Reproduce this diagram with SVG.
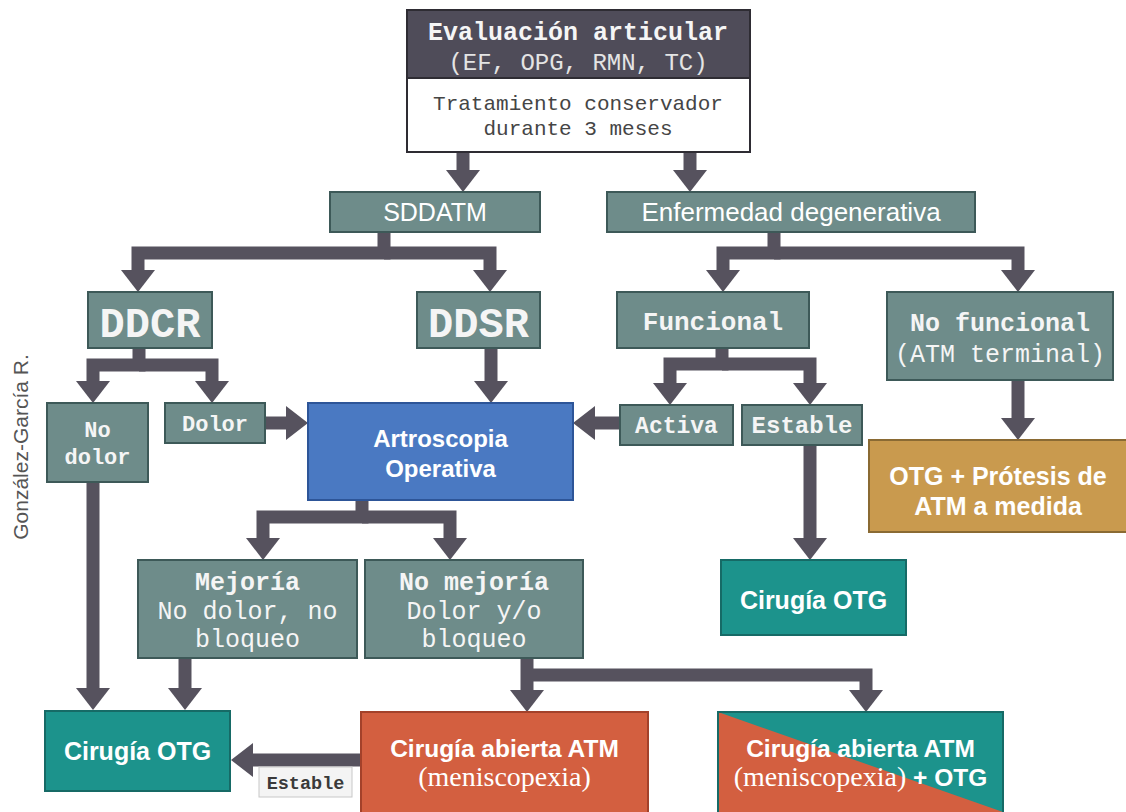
<svg xmlns="http://www.w3.org/2000/svg" width="1126" height="812" viewBox="0 0 1126 812">
<style>
.bg{fill:#ffffff}
.g{fill:#6e8c8a;stroke:#3d5958;stroke-width:2}
.dk{fill:#4f4c59;stroke:#2e2c33;stroke-width:2}
.wt{fill:#ffffff;stroke:#2e2c33;stroke-width:2}
.bl{fill:#4a79c2;stroke:#2d5598;stroke-width:2}
.tl{fill:#1c938c;stroke:#166a66;stroke-width:2}
.or{fill:#d35f40;stroke:#a3412a;stroke-width:2}
.tn{fill:#c99a4e;stroke:#8a6a33;stroke-width:2}
.lb{fill:#f4f4f4;stroke:#c8c8c8;stroke-width:1}
.m{font-family:"Liberation Mono","Courier New",monospace;fill:#f5f5f5;text-anchor:middle}
.mb{font-family:"Liberation Mono","Courier New",monospace;fill:#f5f5f5;text-anchor:middle;font-weight:bold}
.s{font-family:"Liberation Sans",Arial,sans-serif;fill:#ffffff;text-anchor:middle}
.sb{font-family:"Liberation Sans",Arial,sans-serif;fill:#ffffff;text-anchor:middle;font-weight:bold}
.sf{font-family:"Liberation Serif","Times New Roman",serif;font-weight:normal}
.c{fill:none;stroke:#56525e;stroke-width:13;stroke-linejoin:miter;stroke-linecap:butt;marker-end:url(#ah)}
.cn{fill:none;stroke:#56525e;stroke-width:13;stroke-linejoin:miter;stroke-linecap:butt}
</style>
<defs>
<marker id="ah" markerUnits="userSpaceOnUse" markerWidth="24" markerHeight="36" refX="0" refY="0" orient="auto" overflow="visible">
<path d="M-1,-17 L21,0 L-1,17 Z" fill="#56525e"/>
</marker>
</defs>
<rect class="bg" x="0" y="0" width="1126" height="812"/>

<g id="connectors">
<path class="c" d="M463,152 V171"/>
<path class="c" d="M690,152 V171"/>
<path class="c" d="M384,232 V253 H138 V271"/>
<path class="c" d="M384,253 H490 V271"/>
<path class="c" d="M774,232 V253 H723 V271"/>
<path class="c" d="M774,253 H1018 V271"/>
<path class="c" d="M139,348 V365 H93 V382"/>
<path class="c" d="M139,365 H212 V382"/>
<path class="c" d="M491,348 V382"/>
<path class="c" d="M265,423 H287"/>
<path class="c" d="M620,423 H594"/>
<path class="c" d="M722,348 V364 H670 V384"/>
<path class="c" d="M722,364 H810 V384"/>
<path class="c" d="M1018,380 V419"/>
<path class="c" d="M810,445 V539"/>
<path class="c" d="M362,500 V517 H263 V539"/>
<path class="c" d="M362,517 H450 V539"/>
<path class="c" d="M93,482 V689"/>
<path class="c" d="M185,658 V689"/>
<path class="c" d="M527,658 V691"/>
<path class="c" d="M527,675 H866 V691"/>
<path class="c" d="M361,760 H252"/>
</g>

<g id="n-top">
<rect class="dk" x="407" y="10" width="343" height="68"/>
<rect class="wt" x="407" y="78" width="343" height="74"/>
<text class="mb" x="578" y="40" font-size="25">Evaluación articular</text>
<text class="m" x="578" y="70" font-size="24" style="fill:#e4e4e4">(EF, OPG, RMN, TC)</text>
<text class="m" x="578" y="110" font-size="21" style="fill:#454545">Tratamiento conservador</text>
<text class="m" x="578" y="135" font-size="21" style="fill:#454545">durante 3 meses</text>
</g>

<g id="n-sddatm">
<rect class="g" x="330" y="192" width="210" height="40"/>
<text class="s" x="435" y="221" font-size="25">SDDATM</text>
</g>

<g id="n-enf">
<rect class="g" x="607" y="192" width="368" height="40"/>
<text class="s" x="791" y="221" font-size="26">Enfermedad degenerativa</text>
</g>

<g id="n-ddcr">
<rect class="g" x="88" y="292" width="124" height="56"/>
<text class="mb" x="150" y="337" font-size="42">DDCR</text>
</g>

<g id="n-ddsr">
<rect class="g" x="417" y="292" width="123" height="56"/>
<text class="mb" x="478.5" y="337" font-size="42">DDSR</text>
</g>

<g id="n-funcional">
<rect class="g" x="617" y="292" width="192" height="56"/>
<text class="mb" x="713" y="330" font-size="26">Funcional</text>
</g>

<g id="n-nofuncional">
<rect class="g" x="887" y="292" width="226" height="88"/>
<text class="mb" x="1000" y="331" font-size="25">No funcional</text>
<text class="m" x="1000" y="362" font-size="25">(ATM terminal)</text>
</g>

<g id="n-nodolor">
<rect class="g" x="47" y="403" width="101" height="79"/>
<text class="mb" x="97.5" y="437" font-size="22">No</text>
<text class="mb" x="97.5" y="464" font-size="22">dolor</text>
</g>

<g id="n-dolor">
<rect class="g" x="165" y="403" width="100" height="40"/>
<text class="mb" x="215" y="431" font-size="22">Dolor</text>
</g>

<g id="n-artro">
<rect class="bl" x="308" y="403" width="265" height="97"/>
<text class="sb" x="440.5" y="447" font-size="24">Artroscopia</text>
<text class="sb" x="440.5" y="477" font-size="24">Operativa</text>
</g>

<g id="n-activa">
<rect class="g" x="620" y="405" width="113" height="40"/>
<text class="mb" x="676.5" y="433" font-size="23">Activa</text>
</g>

<g id="n-estable">
<rect class="g" x="742" y="405" width="120" height="40"/>
<text class="mb" x="802" y="433" font-size="24">Estable</text>
</g>

<g id="n-protesis">
<rect class="tn" x="869" y="440" width="260" height="92"/>
<text class="sb" x="998" y="485" font-size="25">OTG + Prótesis de</text>
<text class="sb" x="998" y="515" font-size="25">ATM a medida</text>
</g>

<g id="n-mejoria">
<rect class="g" x="138" y="560" width="219" height="98"/>
<text class="mb" x="247.5" y="590" font-size="25">Mejoría</text>
<text class="m" x="247.5" y="619" font-size="25">No dolor, no</text>
<text class="m" x="247.5" y="647" font-size="25">bloqueo</text>
</g>

<g id="n-nomejoria">
<rect class="g" x="365" y="560" width="218" height="98"/>
<text class="mb" x="474" y="590" font-size="25">No mejoría</text>
<text class="m" x="474" y="619" font-size="25">Dolor y/o</text>
<text class="m" x="474" y="647" font-size="25">bloqueo</text>
</g>

<g id="n-otg-mid">
<rect class="tl" x="721" y="560" width="185" height="75"/>
<text class="sb" x="813.5" y="609" font-size="25">Cirugía OTG</text>
</g>

<g id="n-otg-left">
<rect class="tl" x="45" y="711" width="185" height="80"/>
<text class="sb" x="137.5" y="760" font-size="25">Cirugía OTG</text>
</g>

<g id="n-estable-label">
<rect class="lb" x="259" y="767" width="93" height="30"/>
<text x="305.5" y="789" font-size="18.5" font-family="Liberation Mono, Courier New, monospace" font-weight="bold" fill="#3a3a3a" text-anchor="middle">Estable</text>
</g>

<g id="n-abierta">
<rect class="or" x="361" y="712" width="287" height="110"/>
<text class="sb" x="504.5" y="757" font-size="24.5">Cirugía abierta ATM</text>
<text class="s sf" x="504.5" y="786" font-size="28">(meniscopexia)</text>
</g>

<g id="n-abierta-otg">
<rect class="or" x="718" y="712" width="285" height="110"/>
<polygon points="718,712 1003,712 1003,812" fill="#1c938c"/>
<rect x="718" y="712" width="285" height="110" fill="none" stroke="#166a66" stroke-width="2"/>
<text class="sb" x="860.5" y="757" font-size="24.5">Cirugía abierta ATM</text>
<text class="sb" x="860.5" y="786" font-size="24.5"><tspan class="sf" font-size="28">(meniscopexia)</tspan> + OTG</text>
</g>

<text x="28" y="447" transform="rotate(-90 28 447)" font-family="Liberation Sans, Arial, sans-serif" font-size="21" fill="#555555" text-anchor="middle">González-García R.</text>
</svg>
